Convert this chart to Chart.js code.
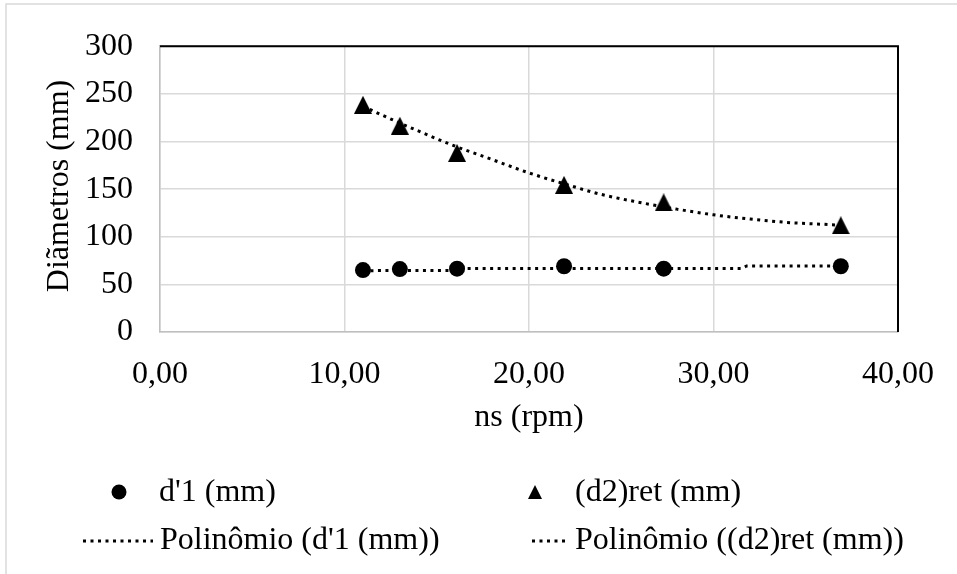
<!DOCTYPE html>
<html>
<head>
<meta charset="utf-8">
<script src="https://cdn.jsdelivr.net/npm/chart.js@4"></script>
<style>
  html, body { margin: 0; padding: 0; background: #fff; }
  #wrap { width: 957px; height: 574px; }
</style>
</head>
<body>
<div id="wrap"><canvas id="chart" width="957" height="574"></canvas></div>
<script>
// ns (rpm) vs diameters
const NS_RPM   = [11.0, 13.0, 16.1, 21.9, 27.3, 36.9];
const D1_MM    = [65, 66, 66.5, 69, 66.5, 69];
const D2RET_MM = [238.5, 216.5, 188, 154.5, 136, 112];

// polynomial trendlines as plotted
const D1_FIT_X = [11.0, 16.0, 16.3, 31.5, 31.8, 36.9];
const D1_FIT_Y = [64.4, 64.6, 66.6, 66.7, 69.3, 69.4];
const D2_FIT_X = [11, 12, 14, 16, 18, 20, 22, 24, 26, 28, 30, 32, 34, 36, 36.9];
const D2_FIT_Y = [237, 228, 211, 195, 181, 167, 155, 144, 136, 129, 123, 118.5, 115, 113, 112];

const X_MIN = 0, X_MAX = 40, X_STEP = 10;
const Y_MIN = 0, Y_MAX = 300, Y_STEP = 50;

const LABELS = ["d'1 (mm)", '(d2)ret (mm)', "Polinômio (d'1 (mm))", 'Polinômio ((d2)ret (mm))'];
const X_TITLE = 'ns (rpm)';
const Y_TITLE = 'Diãmetros (mm)';

const FONT = "'Liberation Serif', 'Times New Roman', serif";
const FONT_SIZE = 32;
const DOTS = [3, 4.5];

const pts = (xs, ys) => xs.map((x, i) => ({ x, y: ys[i] }));

function triangleMarker(w, h) {
  const c = document.createElement('canvas');
  c.width = w; c.height = h;
  const g = c.getContext('2d');
  g.fillStyle = '#000';
  g.beginPath();
  g.moveTo(w / 2, 0);
  g.lineTo(w, h);
  g.lineTo(0, h);
  g.closePath();
  g.fill();
  return c;
}
const TRI = triangleMarker(18, 18);
const TRI_SMALL = triangleMarker(14, 14);

const frame = {
  id: 'frame',
  beforeDraw(chart) {
    const { ctx, width, height } = chart;
    ctx.save();
    ctx.fillStyle = '#fff';
    ctx.fillRect(0, 0, width, height);
    ctx.strokeStyle = '#d9d9d9';
    ctx.lineWidth = 1.5;
    ctx.beginPath();
    ctx.moveTo(6, height);
    ctx.lineTo(6, 4);
    ctx.lineTo(width, 4);
    ctx.stroke();
    ctx.restore();
  },
  beforeDatasetsDraw(chart) {
    const { ctx, chartArea: a } = chart;
    ctx.save();
    ctx.strokeStyle = '#000';
    ctx.lineWidth = 2;
    ctx.beginPath();
    ctx.moveTo(a.left, a.top);
    ctx.lineTo(a.right, a.top);
    ctx.lineTo(a.right, a.bottom);
    ctx.stroke();
    ctx.restore();
  },
  afterDraw(chart) {
    const { ctx, chartArea: a } = chart;
    ctx.save();
    ctx.fillStyle = '#000';
    ctx.font = FONT_SIZE + 'px ' + FONT;
    ctx.textBaseline = 'middle';

    // axis titles
    ctx.textAlign = 'center';
    ctx.fillText(X_TITLE, (a.left + a.right) / 2, 418);
    ctx.save();
    ctx.translate(60, 186);
    ctx.rotate(-Math.PI / 2);
    ctx.fillText(Y_TITLE, 0, 0);
    ctx.restore();

    // legend, two rows
    ctx.textAlign = 'left';
    const row1 = 492, row2 = 541;
    ctx.beginPath();
    ctx.arc(119, row1, 7.5, 0, Math.PI * 2);
    ctx.fill();
    ctx.fillText(LABELS[0], 159, row1 + 1);
    ctx.drawImage(TRI_SMALL, 535 - 7, row1 - 7);
    ctx.fillText(LABELS[1], 575, row1 + 1);

    ctx.strokeStyle = '#000';
    ctx.lineWidth = 3;
    ctx.setLineDash(DOTS);
    ctx.beginPath();
    ctx.moveTo(83, row2); ctx.lineTo(153, row2);
    ctx.moveTo(532, row2); ctx.lineTo(569, row2);
    ctx.stroke();
    ctx.setLineDash([]);
    ctx.fillText(LABELS[2], 160, row2);
    ctx.fillText(LABELS[3], 575, row2);
    ctx.restore();
  }
};

const fitLine = {
  type: 'line',
  showLine: true,
  borderColor: '#000',
  borderWidth: 3,
  borderDash: DOTS,
  borderCapStyle: 'butt',
  pointRadius: 0,
  pointHoverRadius: 0,
  fill: false
};

new Chart(document.getElementById('chart'), {
  type: 'scatter',
  data: {
    datasets: [
      {
        label: LABELS[0],
        data: pts(NS_RPM, D1_MM),
        pointStyle: 'circle',
        pointRadius: 8,
        backgroundColor: '#000',
        borderColor: '#000',
        borderWidth: 0,
        order: 0
      },
      {
        label: LABELS[1],
        data: pts(NS_RPM, D2RET_MM),
        pointStyle: TRI,
        pointRadius: 9,
        backgroundColor: '#000',
        borderColor: '#000',
        order: 0
      },
      { ...fitLine, label: LABELS[2], data: pts(D1_FIT_X, D1_FIT_Y), tension: 0, order: 1 },
      { ...fitLine, label: LABELS[3], data: pts(D2_FIT_X, D2_FIT_Y), cubicInterpolationMode: 'monotone', order: 1 }
    ]
  },
  options: {
    responsive: false,
    animation: false,
    layout: { padding: { left: 0, top: 35, right: 57, bottom: 0 } },
    plugins: {
      legend: { display: false },
      tooltip: { enabled: false }
    },
    scales: {
      x: {
        type: 'linear',
        min: X_MIN, max: X_MAX,
        afterFit: s => { s.height = 574 - 332; },
        ticks: {
          stepSize: X_STEP,
          padding: 23,
          color: '#000',
          font: { family: FONT, size: FONT_SIZE },
          callback: v => v.toFixed(2).replace('.', ',')
        },
        grid: { color: '#d9d9d9', lineWidth: 1.5, drawTicks: false },
        border: { color: '#bfbfbf', width: 1.5 }
      },
      y: {
        min: Y_MIN, max: Y_MAX,
        afterFit: s => { s.width = 160; },
        ticks: {
          stepSize: Y_STEP,
          padding: 27,
          color: '#000',
          font: { family: FONT, size: FONT_SIZE }
        },
        grid: { color: '#d9d9d9', lineWidth: 1.5, drawTicks: false },
        border: { color: '#bfbfbf', width: 1.5 }
      }
    }
  },
  plugins: [frame]
});
</script>
</body>
</html>
